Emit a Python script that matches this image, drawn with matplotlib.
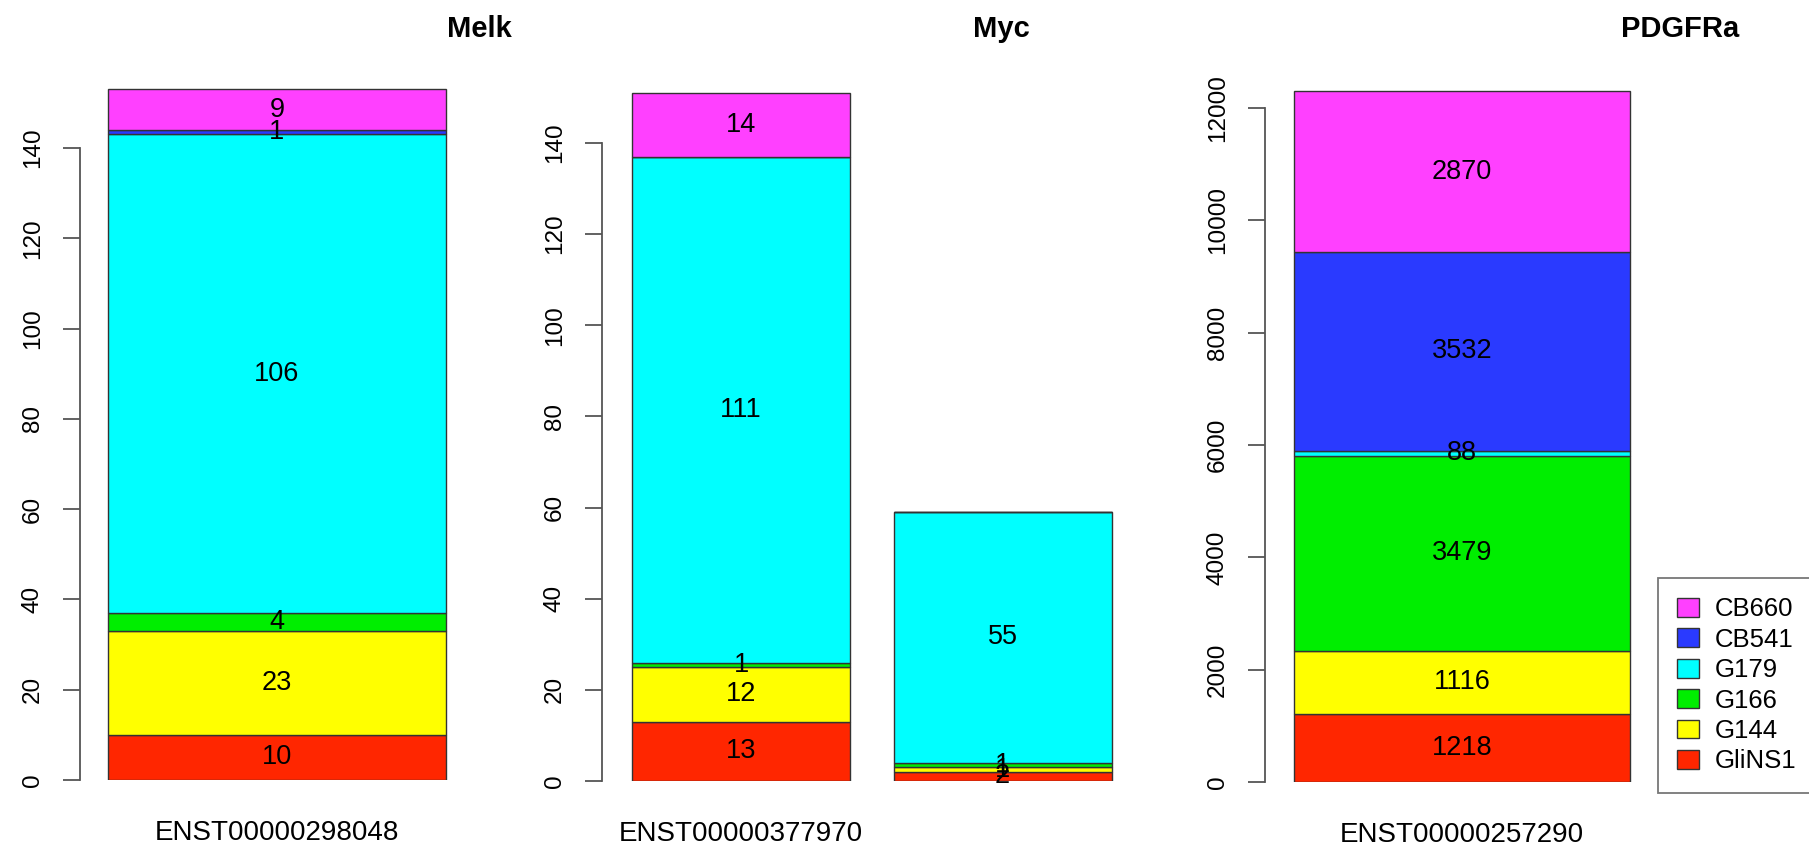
import matplotlib
matplotlib.use("Agg")
import matplotlib.pyplot as plt
from matplotlib.patches import Patch

plt.rcParams['font.family'] = ['Liberation Sans', 'DejaVu Sans']

# ---------------- data ----------------
samples = ["GliNS1", "G144", "G166", "G179", "CB541", "CB660"]
colors = ["#FF2600", "#FFFF00", "#00EE00", "#00FFFF", "#2A3AFF", "#FF40FF"]

melk_names = ["ENST00000298048"]
melk_values = [[10], [23], [4], [106], [1], [9]]

myc_names = ["ENST00000377970", ""]
myc_values = [[13, 2], [12, 1], [1, 1], [111, 55], [0, 0], [14, 0]]

pdgfra_names = ["ENST00000257290"]
pdgfra_values = [[1218], [1116], [3479], [88], [3532], [2870]]

melk_ticks = [0, 20, 40, 60, 80, 100, 120, 140]
myc_ticks = [0, 20, 40, 60, 80, 100, 120, 140]
pdgfra_ticks = [0, 2000, 4000, 6000, 8000, 10000, 12000]

titles = ["Melk", "Myc", "PDGFRa"]

# ---------------- layout (pixels) ----------------
W, H = 1809, 855
fig = plt.figure(figsize=(W / 100, H / 100), dpi=100)

AX_COL = "#555555"


def panel(values, names, ticks, spine_x, bar_left, unit_px, y0_px, ytop_tick_px, right_px):
    nbars = len(names)
    ppu = (y0_px - ytop_tick_px) / ticks[-1]
    top_px = 60
    left = spine_x / W
    bottom = (H - y0_px) / H
    width = (right_px - spine_x) / W
    height = (y0_px - top_px) / H
    ax = fig.add_axes([left, bottom, width, height])
    xl0 = 0.2 + (spine_x - bar_left) / unit_px
    xl1 = 0.2 + (right_px - bar_left) / unit_px
    ax.set_xlim(xl0, xl1)
    ax.set_ylim(0, (y0_px - top_px) / ppu)
    centers = [0.7 + 1.2 * i for i in range(nbars)]
    bottoms = [0] * nbars
    for vals, col in zip(values, colors):
        ax.bar(centers, vals, width=1.0, bottom=bottoms, color=col,
               edgecolor="#333333", linewidth=1.0, zorder=2)
        for c, b, v in zip(centers, bottoms, vals):
            if v > 0:
                ax.text(c, b + v / 2, str(v), ha="center", va="center",
                        fontsize=19.5, color="black", zorder=3)
        bottoms = [b + v for b, v in zip(bottoms, vals)]
    for s in ["top", "right", "bottom"]:
        ax.spines[s].set_visible(False)
    ax.spines["left"].set_bounds(ticks[0], ticks[-1])
    ax.spines["left"].set_color(AX_COL)
    ax.spines["left"].set_linewidth(1.3)
    ax.set_yticks(ticks)
    ax.set_yticklabels([str(t) for t in ticks], rotation=90, va="center",
                       fontsize=17.5)
    ax.tick_params(axis="y", length=12, width=1.3, color=AX_COL, pad=14)
    ax.set_xticks(centers)
    ax.set_xticklabels(names, fontsize=20)
    ax.tick_params(axis="x", length=0, pad=29)
    ax.patch.set_visible(False)
    return ax


panel(melk_values, melk_names, melk_ticks, spine_x=80, bar_left=108,
      unit_px=338, y0_px=780, ytop_tick_px=148, right_px=470)
panel(myc_values, myc_names, myc_ticks, spine_x=602, bar_left=632,
      unit_px=218, y0_px=781, ytop_tick_px=143, right_px=1130)
panel(pdgfra_values, pdgfra_names, pdgfra_ticks, spine_x=1265, bar_left=1294,
      unit_px=336, y0_px=782, ytop_tick_px=108, right_px=1650)

for t, x in zip(titles, [479, 1001, 1680]):
    fig.text(x / W, 1 - 29 / H, t, ha="center", va="center",
             fontsize=21, fontweight="bold")

handles = [Patch(facecolor=c, edgecolor="#333333", linewidth=1.0, label=s)
           for s, c in zip(samples, colors)][::-1]
leg = fig.legend(handles=handles, loc="upper left",
                 bbox_to_anchor=(1658 / W, 1 - 578 / H), fontsize=18.5,
                 frameon=True, fancybox=False, edgecolor="#555555",
                 handlelength=0.85, handleheight=0.75, handletextpad=0.6,
                 labelspacing=0.25, borderpad=0.75, borderaxespad=0)
leg.get_frame().set_linewidth(1.3)

fig.savefig("out.png", dpi=100)
